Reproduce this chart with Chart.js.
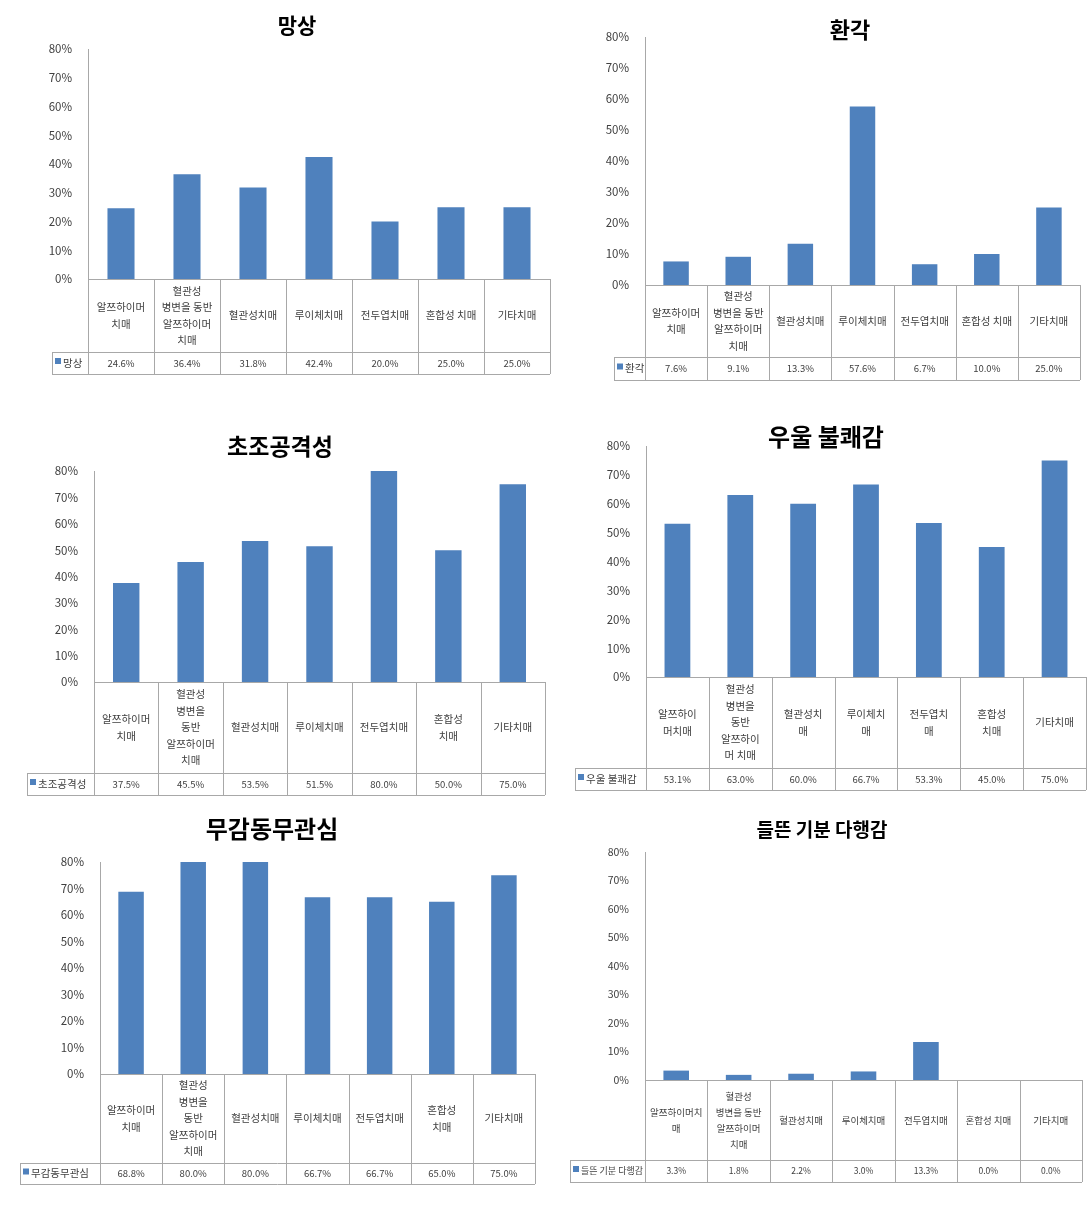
<!DOCTYPE html>
<html>
<head>
<meta charset="utf-8">
<script src="https://cdn.jsdelivr.net/npm/chart.js@4"></script>
<style>
  body { margin: 0; background: #fff; width: 1090px; height: 1207px; position: relative; overflow: hidden; }
  canvas { position: absolute; }
</style>
</head>
<body>
<script>
// categories (dementia types), wrapped the way each table shows them
const categories = ['알쯔하이머 치매', '혈관성 병변을 동반 알쯔하이머 치매', '혈관성치매', '루이체치매', '전두엽치매', '혼합성 치매', '기타치매'];
const labelsWide = [['알쯔하이머', '치매'], ['혈관성', '병변을 동반', '알쯔하이머', '치매'], ['혈관성치매'], ['루이체치매'], ['전두엽치매'], ['혼합성 치매'], ['기타치매']];
const labelsNarrow = [['알쯔하이머', '치매'], ['혈관성', '병변을', '동반', '알쯔하이머', '치매'], ['혈관성치매'], ['루이체치매'], ['전두엽치매'], ['혼합성', '치매'], ['기타치매']];
const labelsDepress = [['알쯔하이', '머치매'], ['혈관성', '병변을', '동반', '알쯔하이', '머 치매'], ['혈관성치', '매'], ['루이체치', '매'], ['전두엽치', '매'], ['혼합성', '치매'], ['기타치매']];
const labelsElation = [['알쯔하이머치', '매'], ['혈관성', '병변을 동반', '알쯔하이머', '치매'], ['혈관성치매'], ['루이체치매'], ['전두엽치매'], ['혼합성 치매'], ['기타치매']];

// series values (%)
const delusion = [24.6, 36.4, 31.8, 42.4, 20.0, 25.0, 25.0];
const hallucination = [7.6, 9.1, 13.3, 57.6, 6.7, 10.0, 25.0];
const agitation = [37.5, 45.5, 53.5, 51.5, 80.0, 50.0, 75.0];
const depression = [53.1, 63.0, 60.0, 66.7, 53.3, 45.0, 75.0];
const apathy = [68.8, 80.0, 80.0, 66.7, 66.7, 65.0, 75.0];
const elation = [3.3, 1.8, 2.2, 3.0, 13.3, 0.0, 0.0];

// y ticks
const yMin = 0, yMax = 80, yStep = 10;

const FONT = "'Noto Sans CJK KR', 'Noto Sans', sans-serif";
const BLUE = '#4F81BD';

// page layout of each panel (pixels)
const panels = [
  { name: '망상', data: delusion, labels: labelsWide, titleX: 297, titleY: 25, titleSize: 21,
    legendLeft: 52, plotLeft: 88, plotRight: 550, top: 49, base: 279, catBottom: 352, valBottom: 374 },
  { name: '환각', data: hallucination, labels: labelsWide, titleX: 850, titleY: 30, titleSize: 22,
    legendLeft: 614, plotLeft: 645, plotRight: 1080, top: 37, base: 285, catBottom: 357, valBottom: 380 },
  { name: '초조공격성', data: agitation, labels: labelsNarrow, titleX: 280, titleY: 446, titleSize: 23,
    legendLeft: 27, plotLeft: 94, plotRight: 545, top: 471, base: 682, catBottom: 773, valBottom: 795 },
  { name: '우울 불쾌감', data: depression, labels: labelsDepress, titleX: 826, titleY: 437, titleSize: 24,
    legendLeft: 575, plotLeft: 646, plotRight: 1086, top: 446, base: 677, catBottom: 768, valBottom: 790 },
  { name: '무감동무관심', data: apathy, labels: labelsNarrow, titleX: 272, titleY: 829, titleSize: 24,
    legendLeft: 20, plotLeft: 100, plotRight: 535, top: 862, base: 1074, catBottom: 1163, valBottom: 1184 },
  { name: '들뜬 기분 다행감', data: elation, labels: labelsElation, titleX: 822, titleY: 830, titleSize: 19,
    legendLeft: 570, plotLeft: 645, plotRight: 1082, top: 852, base: 1080, catBottom: 1160, valBottom: 1182,
    catSize: 9.5, valSize: 8.5, keySize: 9, tickSize: 10.5, lineH: 16 }
];

// draws the title and the data table under the bars
const tablePlugin = {
  id: 'dataTable',
  afterDraw(chart, args, opts) {
    const p = opts.panel;
    const ctx = chart.ctx;
    const a = chart.chartArea;
    const n = p.labels.length;
    const colW = (a.right - a.left) / n;
    const base = p.base - p.boxY;
    const catB = p.catBottom - p.boxY;
    const valB = p.valBottom - p.boxY;
    const legL = p.legendLeft - p.boxX;
    const px = v => Math.round(v) + 0.5;

    ctx.save();
    // title
    ctx.fillStyle = '#000';
    ctx.font = 'bold ' + p.titleSize + 'px ' + FONT;
    ctx.textAlign = 'center';
    ctx.textBaseline = 'middle';
    ctx.fillText(p.name, p.titleX - p.boxX, p.titleY - p.boxY);

    // grid
    ctx.strokeStyle = '#a8a8a8';
    ctx.lineWidth = 1;
    ctx.beginPath();
    ctx.moveTo(a.left, px(base)); ctx.lineTo(a.right, px(base));
    ctx.moveTo(legL, px(catB)); ctx.lineTo(a.right, px(catB));
    ctx.moveTo(legL, px(valB)); ctx.lineTo(a.right, px(valB));
    for (let i = 0; i <= n; i++) {
      const x = px(a.left + i * colW);
      ctx.moveTo(x, base); ctx.lineTo(x, valB);
    }
    ctx.moveTo(px(legL), catB); ctx.lineTo(px(legL), valB);
    ctx.stroke();

    // category labels
    ctx.fillStyle = '#404040';
    ctx.font = (p.catSize || 10.5) + 'px ' + FONT;
    const lh = p.lineH || 16.5;
    p.labels.forEach((lines, i) => {
      const cx = a.left + (i + 0.5) * colW;
      const cy = (base + catB) / 2;
      const y0 = cy - (lines.length - 1) * lh / 2;
      lines.forEach((t, j) => ctx.fillText(t, cx, y0 + j * lh));
    });

    // values row
    ctx.font = (p.valSize || 9.5) + 'px ' + FONT;
    const vy = (catB + valB) / 2;
    chart.data.datasets[0].data.forEach((v, i) => {
      ctx.fillText(v.toFixed(1) + '%', a.left + (i + 0.5) * colW, vy);
    });

    // legend key
    ctx.fillStyle = BLUE;
    ctx.fillRect(legL + 3, vy - 5, 6, 6);
    ctx.fillStyle = '#404040';
    ctx.font = (p.keySize || 10.5) + 'px ' + FONT;
    ctx.textAlign = 'left';
    ctx.fillText(chart.data.datasets[0].label, legL + 11, vy);
    ctx.restore();
  }
};

panels.forEach(p => {
  p.boxX = Math.min(p.legendLeft, p.plotLeft - 45) - 2;
  p.boxY = Math.min(p.titleY - 20, p.top - 12);
  const right = p.plotRight + 6;
  const bottom = p.valBottom + 4;
  const canvas = document.createElement('canvas');
  canvas.width = right - p.boxX;
  canvas.height = bottom - p.boxY;
  canvas.style.left = p.boxX + 'px';
  canvas.style.top = p.boxY + 'px';
  document.body.appendChild(canvas);

  new Chart(canvas, {
    type: 'bar',
    data: {
      labels: categories,
      datasets: [{
        label: p.name,
        data: p.data,
        backgroundColor: BLUE,
        barPercentage: 0.41,
        categoryPercentage: 1
      }]
    },
    options: {
      responsive: false,
      animation: false,
      layout: {
        padding: {
          left: 0,
          right: right - p.plotRight,
          top: p.top - p.boxY,
          bottom: bottom - p.base
        }
      },
      scales: {
        x: { display: false },
        y: {
          min: yMin,
          max: yMax,
          afterFit: s => { s.width = p.plotLeft - p.boxX; },
          grid: { display: false },
          border: { display: true, color: '#a8a8a8' },
          ticks: {
            stepSize: yStep,
            padding: 8,
            color: '#404040',
            font: { family: FONT, size: p.tickSize || 11.5 },
            callback: v => v + '%'
          }
        }
      },
      plugins: {
        legend: { display: false },
        tooltip: { enabled: false },
        dataTable: { panel: p }
      }
    },
    plugins: [tablePlugin]
  });
});
</script>
</body>
</html>
